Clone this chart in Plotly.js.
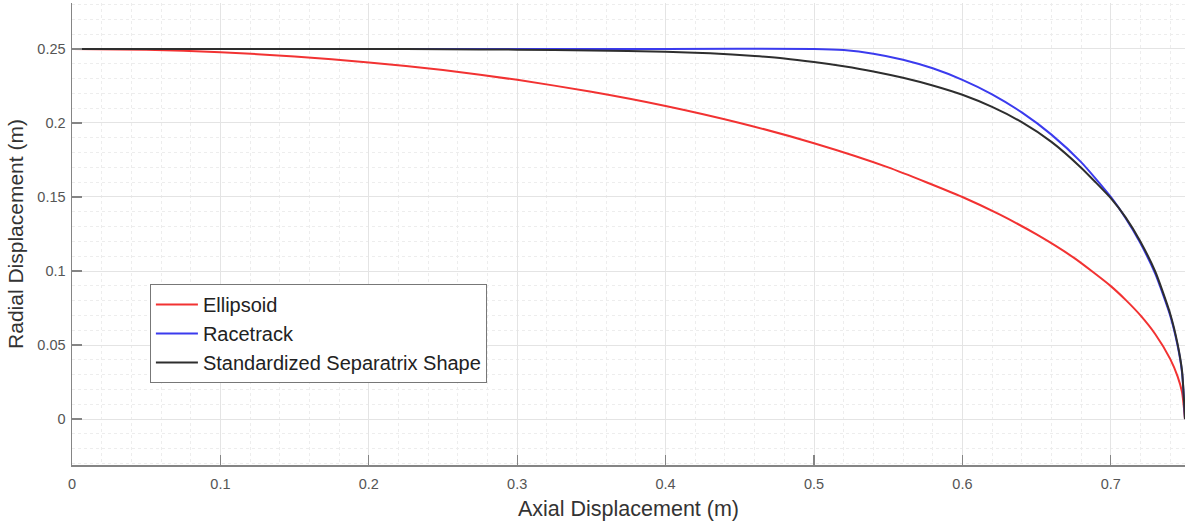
<!DOCTYPE html>
<html>
<head>
<meta charset="utf-8">
<script src="https://cdn.plot.ly/plotly-3.0.1.min.js"></script>
<style>html,body{margin:0;padding:0;background:#fff;}#chart{width:1192px;height:528px;}</style>
</head>
<body>
<div id="chart"></div>
<script>
// Ellipsoid
const ellipsoidX = [0, 0.05, 0.1, 0.15, 0.2, 0.25, 0.3, 0.35, 0.4, 0.45, 0.5, 0.55, 0.6, 0.625, 0.65, 0.675, 0.7, 0.71, 0.72, 0.73, 0.74, 0.745, 0.748, 0.75];
const ellipsoidY = [0.25, 0.2494, 0.2478, 0.2449, 0.2409, 0.2357, 0.2291, 0.2211, 0.2115, 0.2, 0.1863, 0.17, 0.15, 0.1382, 0.1247, 0.109, 0.0898, 0.0805, 0.07, 0.0573, 0.0407, 0.0288, 0.0182, 0];
// Racetrack
const racetrackX = [0, 0.1, 0.2, 0.3, 0.4, 0.5, 0.52, 0.54, 0.56, 0.58, 0.6, 0.62, 0.64, 0.66, 0.68, 0.7, 0.71, 0.72, 0.73, 0.74, 0.745, 0.748, 0.75];
const racetrackY = [0.25, 0.25, 0.25, 0.25, 0.25, 0.25, 0.2492, 0.2468, 0.2427, 0.2369, 0.2291, 0.2193, 0.2071, 0.1921, 0.1735, 0.15, 0.1356, 0.1187, 0.098, 0.07, 0.0497, 0.0316, 0];
// Standardized Separatrix Shape
const separatrixX = [0, 0.05, 0.1, 0.15, 0.2, 0.25, 0.3, 0.35, 0.4, 0.43, 0.46, 0.48, 0.5, 0.52, 0.54, 0.56, 0.58, 0.6, 0.62, 0.64, 0.66, 0.68, 0.69, 0.7, 0.71, 0.72, 0.73, 0.74, 0.745, 0.748, 0.75];
const separatrixY = [0.25, 0.25, 0.25, 0.25, 0.2499, 0.2498, 0.2495, 0.249, 0.2481, 0.247, 0.2452, 0.2436, 0.2412, 0.2383, 0.2348, 0.2305, 0.2253, 0.219, 0.2108, 0.2005, 0.1872, 0.1698, 0.1597, 0.1492, 0.1362, 0.1198, 0.0995, 0.0712, 0.0508, 0.0325, 0];

const seriesNames = ["Ellipsoid", "Racetrack", "Standardized Separatrix Shape"];
const xTickVals = [0, 0.1, 0.2, 0.3, 0.4, 0.5, 0.6, 0.7];
const xTickText = ["0", "0.1", "0.2", "0.3", "0.4", "0.5", "0.6", "0.7"];
const yTickVals = [0, 0.05, 0.1, 0.15, 0.2, 0.25];
const yTickText = ["0", "0.05", "0.1", "0.15", "0.2", "0.25"];

const traces = [
  {x: ellipsoidX, y: ellipsoidY, name: seriesNames[0], mode: "lines", line: {color: "#f23232", width: 2, shape: "spline", smoothing: 0.6}},
  {x: racetrackX, y: racetrackY, name: seriesNames[1], mode: "lines", line: {color: "#3b3bee", width: 2, shape: "spline", smoothing: 0.6}},
  {x: separatrixX, y: separatrixY, name: seriesNames[2], mode: "lines", line: {color: "#2e2e2e", width: 2, shape: "spline", smoothing: 0.6}}
];

const axisCommon = {
  showline: true, linecolor: "#858585", linewidth: 1.5, mirror: false,
  ticks: "inside", ticklen: 10, tickwidth: 1.3, tickcolor: "#858585",
  tickfont: {family: "Liberation Sans, Arial, sans-serif", size: 14.5, color: "#555"},
  showgrid: true, gridcolor: "#e4e4e4", gridwidth: 1,
  zeroline: false, automargin: false
};

const layout = {
  width: 1192, height: 528,
  margin: {l: 72, r: 7, t: 3, b: 63},
  paper_bgcolor: "#fff", plot_bgcolor: "#fff",
  showlegend: true,
  xaxis: Object.assign({}, axisCommon, {
    range: [0, 0.75], tickmode: "array", tickvals: xTickVals, ticktext: xTickText,
    ticklabelstandoff: 5,
    minor: {dtick: 0.02, showgrid: true, gridcolor: "#ededed", griddash: "dot", gridwidth: 1, ticks: ""},
    title: {text: "Axial Displacement (m)", font: {family: "Liberation Sans, Arial, sans-serif", size: 21.5, color: "#333"}, standoff: 10}
  }),
  yaxis: Object.assign({}, axisCommon, {
    range: [-0.031, 0.281], tickmode: "array", tickvals: yTickVals, ticktext: yTickText,
    ticklabelstandoff: 2,
    minor: {dtick: 0.01, showgrid: true, gridcolor: "#ededed", griddash: "dot", gridwidth: 1, ticks: ""},
    title: {text: "Radial Displacement (m)", font: {family: "Liberation Sans, Arial, sans-serif", size: 21, color: "#333"}, standoff: 8}
  }),
  legend: {
    x: 0.07, y: 0.392, xanchor: "left", yanchor: "top",
    bgcolor: "#fff", bordercolor: "#777", borderwidth: 1,
    font: {family: "Liberation Sans, Arial, sans-serif", size: 20, color: "#222"},
    itemwidth: 42, tracegroupgap: 0
  }
};

Plotly.newPlot("chart", traces, layout, {displayModeBar: false, staticPlot: true});
</script>
</body>
</html>
